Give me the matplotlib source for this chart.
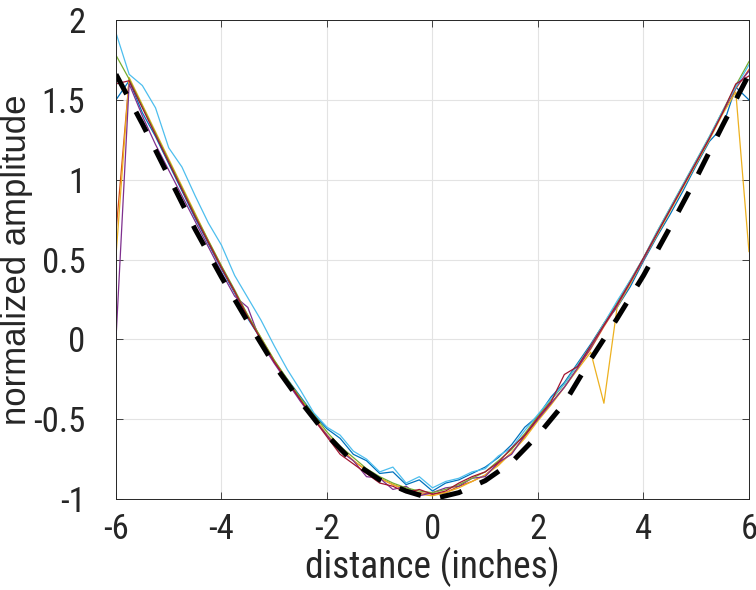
import numpy as np
import matplotlib
matplotlib.use("Agg")
import matplotlib.pyplot as plt
from matplotlib import font_manager

# Data
# -----------------
x = [-6.00, -5.75, -5.50, -5.25, -5.00, -4.75, -4.50, -4.25, -4.00, -3.75,
     -3.50, -3.25, -3.00, -2.75, -2.50, -2.25, -2.00, -1.75, -1.50, -1.25,
     -1.00, -0.75, -0.50, -0.25, 0.00, 0.25, 0.50, 0.75, 1.00, 1.25,
     1.50, 1.75, 2.00, 2.25, 2.50, 2.75, 3.00, 3.25, 3.50, 3.75,
     4.00, 4.25, 4.50, 4.75, 5.00, 5.25, 5.50, 5.75, 6.00]

blue = [1.50, 1.62, 1.42, 1.27, 1.10, 0.93, 0.76, 0.60, 0.44, 0.29,
        0.13, 0.00, -0.14, -0.25, -0.36, -0.47, -0.56, -0.62, -0.72, -0.76,
        -0.84, -0.83, -0.91, -0.88, -0.95, -0.90, -0.88, -0.84, -0.80, -0.74,
        -0.66, -0.55, -0.48, -0.36, -0.27, -0.15, -0.03, 0.10, 0.20, 0.33,
        0.49, 0.64, 0.78, 0.93, 1.09, 1.24, 1.33, 1.58, 1.50]
orange = [0.67, 1.63, 1.46, 1.29, 1.12, 0.95, 0.78, 0.61, 0.45, 0.30,
          0.14, 0.00, -0.14, -0.27, -0.38, -0.49, -0.60, -0.68, -0.76, -0.82,
          -0.87, -0.91, -0.94, -0.96, -0.97, -0.96, -0.92, -0.89, -0.85, -0.78,
          -0.71, -0.61, -0.50, -0.40, -0.30, -0.18, -0.06, 0.08, 0.21, 0.35,
          0.50, 0.66, 0.81, 0.96, 1.11, 1.26, 1.42, 1.57, 1.69]
yellow = [0.52, 1.64, 1.47, 1.30, 1.13, 0.96, 0.79, 0.62, 0.46, 0.30,
          0.15, 0.01, -0.13, -0.26, -0.37, -0.48, -0.60, -0.68, -0.76, -0.82,
          -0.87, -0.91, -0.94, -0.97, -0.98, -0.96, -0.93, -0.89, -0.85, -0.79,
          -0.71, -0.62, -0.51, -0.41, -0.30, -0.19, -0.08, -0.40, 0.20, 0.35,
          0.50, 0.65, 0.80, 0.95, 1.10, 1.25, 1.41, 1.55, 0.55]
purple = [0.00, 1.60, 1.40, 1.22, 1.06, 0.90, 0.74, 0.58, 0.42, 0.27,
          0.20, -0.02, -0.15, -0.27, -0.39, -0.50, -0.60, -0.70, -0.76, -0.86,
          -0.87, -0.94, -0.92, -0.98, -0.96, -0.93, -0.92, -0.87, -0.86, -0.77,
          -0.72, -0.60, -0.50, -0.40, -0.30, -0.18, -0.05, 0.09, 0.21, 0.36,
          0.50, 0.66, 0.81, 0.96, 1.11, 1.26, 1.42, 1.58, 1.68]
green = [1.78, 1.63, 1.46, 1.29, 1.12, 0.95, 0.78, 0.62, 0.46, 0.31,
         0.15, 0.01, -0.13, -0.25, -0.37, -0.47, -0.58, -0.67, -0.74, -0.81,
         -0.86, -0.90, -0.93, -0.95, -0.96, -0.94, -0.91, -0.87, -0.83, -0.76,
         -0.69, -0.59, -0.48, -0.38, -0.28, -0.16, -0.04, 0.10, 0.23, 0.37,
         0.51, 0.67, 0.82, 0.97, 1.12, 1.27, 1.43, 1.59, 1.74]
light_blue = [1.92, 1.66, 1.59, 1.45, 1.20, 1.08, 0.90, 0.73, 0.59, 0.40,
              0.26, 0.12, -0.04, -0.19, -0.32, -0.46, -0.55, -0.60, -0.70, -0.75,
              -0.83, -0.80, -0.90, -0.86, -0.93, -0.89, -0.87, -0.83, -0.81, -0.73,
              -0.68, -0.57, -0.47, -0.37, -0.28, -0.16, -0.04, 0.10, 0.24, 0.37,
              0.51, 0.67, 0.82, 0.97, 1.12, 1.27, 1.43, 1.58, 1.72]
dark_red = [1.60, 1.62, 1.45, 1.28, 1.11, 0.94, 0.77, 0.61, 0.45, 0.30,
            0.14, 0.00, -0.14, -0.26, -0.38, -0.50, -0.61, -0.72, -0.78, -0.84,
            -0.90, -0.92, -0.96, -0.94, -0.97, -0.95, -0.90, -0.86, -0.83, -0.77,
            -0.68, -0.60, -0.49, -0.39, -0.22, -0.17, -0.04, 0.09, 0.22, 0.36,
            0.51, 0.66, 0.81, 0.96, 1.11, 1.26, 1.42, 1.60, 1.65]

# model curve (black dashed)
model_x = [-6.0, -5.5, -5.0, -4.5, -4.0, -3.5, -3.0, -2.5, -2.0, -1.5, -1.0, -0.5, 0.0,
           0.5, 1.0, 1.5, 2.0, 2.5, 3.0, 3.5, 4.0, 4.5, 5.0, 5.5, 6.0]
model_y = [1.66, 1.35, 1.02, 0.69, 0.39, 0.11, -0.16, -0.39, -0.60, -0.77, -0.88, -0.95, -1.00,
           -0.96, -0.885, -0.77, -0.60, -0.40, -0.125, 0.13, 0.40, 0.70, 1.01, 1.34, 1.66]

series = [blue, orange, yellow, purple, green, light_blue, dark_red]
colors = ['#0072BD', '#D95319', '#EDB120', '#7E2F8E', '#77AC30', '#4DBEEE', '#A2142F']

# Fonts: a condensed face, if one is installed, mimics the tall MATLAB text
# -----------------
names = {f.name for f in font_manager.fontManager.ttflist}
regular = 'Liberation Sans' if 'Liberation Sans' in names else 'DejaVu Sans'
narrow = None
for cand in ['Liberation Sans Narrow', 'Arial Narrow', 'Roboto Condensed',
             'Open Sans Condensed', 'DejaVu Sans Condensed', 'Noto Sans Condensed']:
    if cand in names:
        narrow = cand
        break
if narrow:
    tick_size, xlab_size = 25, 27
else:
    narrow, tick_size, xlab_size = regular, 22, 24
plt.rcParams['font.family'] = [regular, 'DejaVu Sans']
txt = '#262626'

# Plot
# -----------------
fig = plt.figure(figsize=(7.56, 5.90), dpi=100)
ax = fig.add_axes([0.1534, 0.1542, 0.8373, 0.8118])

for ys, c in zip(series, colors):
    ax.plot(x, ys, color=c, lw=0.9)
ax.plot(model_x, model_y, color='black', lw=3.6, linestyle=(0, (4.5, 4.0)))

ax.set_xlim(-6, 6)
ax.set_ylim(-1, 2)
ax.set_xticks([-6, -4, -2, 0, 2, 4, 6])
ax.set_yticks([-1, -0.5, 0, 0.5, 1, 1.5, 2])
ax.set_xticklabels(['-6', '-4', '-2', '0', '2', '4', '6'], family=[narrow, 'DejaVu Sans'])
ax.set_yticklabels(['-1', '-0.5', '0', '0.5', '1', '1.5', '2'], family=[narrow, 'DejaVu Sans'])
ax.grid(True, color='#e3e3e3', lw=0.8)
ax.set_axisbelow(True)
ax.tick_params(direction='in', length=5, width=0.6, color=txt,
               top=True, right=True, labelsize=tick_size, labelcolor=txt)
ax.tick_params(axis='x', pad=10)
ax.tick_params(axis='y', pad=22)
for s in ax.spines.values():
    s.set_color(txt)
    s.set_linewidth(0.7)

ax.set_xlabel('distance (inches)', fontsize=xlab_size, color=txt,
              family=[narrow, 'DejaVu Sans'], va='center')
ax.xaxis.set_label_coords(0.5, -0.142)
ax.set_ylabel('normalized amplitude', fontsize=25, color=txt, va='center')
ax.yaxis.set_label_coords(-0.157, 0.5)

fig.savefig('out.png', dpi=100)
